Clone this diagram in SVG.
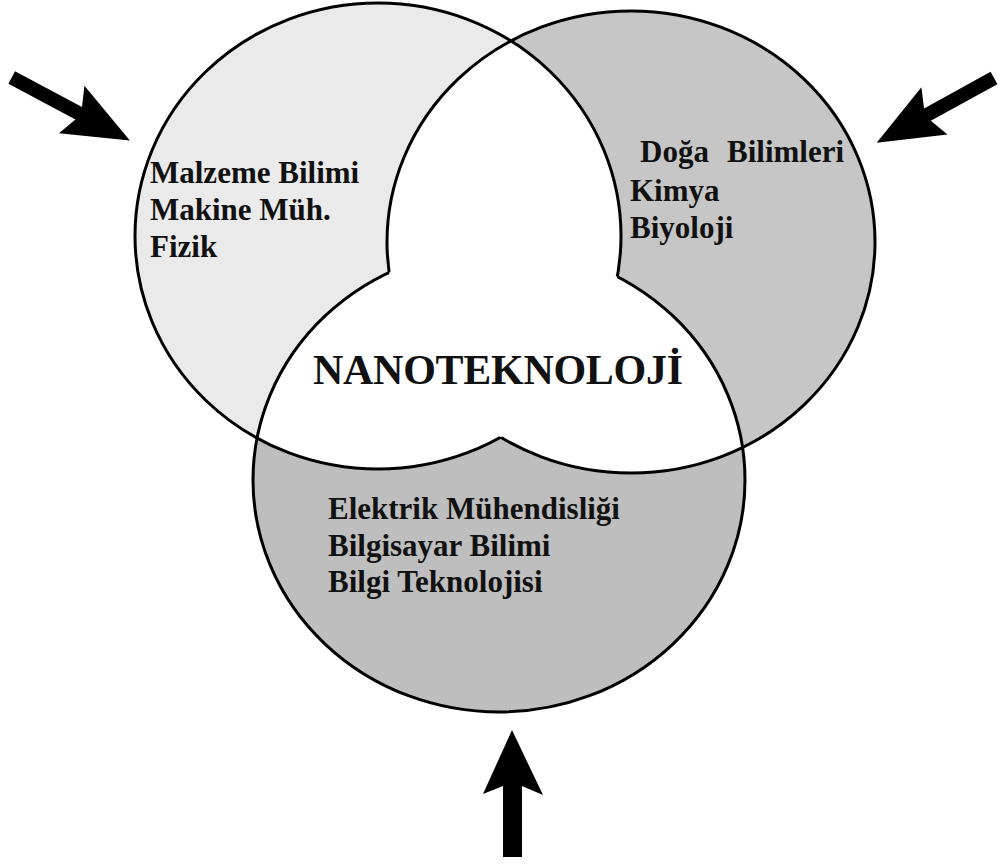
<svg xmlns="http://www.w3.org/2000/svg" width="1002" height="866" viewBox="0 0 1002 866">
<style>
  .lbl{font-family:"Liberation Serif","Times New Roman",serif;font-weight:bold;font-size:31px;fill:#111}
  .title{font-size:42px}
  .ring{fill:none;stroke:#000;stroke-width:3}
  .arrow{fill:#000}
</style>
<defs>
  <ellipse id="eL" cx="378" cy="236" rx="243" ry="233"/>
  <ellipse id="eR" cx="631" cy="242" rx="244" ry="231"/>
  <ellipse id="eB" cx="499" cy="480" rx="246" ry="232"/>
  <clipPath id="cL"><use href="#eL"/></clipPath>
  <clipPath id="cR"><use href="#eR"/></clipPath>
  <clipPath id="cB"><use href="#eB"/></clipPath>
  <mask id="mRB" maskUnits="userSpaceOnUse" x="0" y="0" width="1002" height="866">
    <rect width="1002" height="866" fill="#fff"/>
    <g clip-path="url(#cB)"><use href="#eR" fill="#000"/></g>
  </mask>
  <mask id="mLB" maskUnits="userSpaceOnUse" x="0" y="0" width="1002" height="866">
    <rect width="1002" height="866" fill="#fff"/>
    <g clip-path="url(#cB)"><use href="#eL" fill="#000"/></g>
  </mask>
  <mask id="mLR" maskUnits="userSpaceOnUse" x="0" y="0" width="1002" height="866">
    <rect width="1002" height="866" fill="#fff"/>
    <g clip-path="url(#cR)"><use href="#eL" fill="#000"/></g>
  </mask>
  <polygon id="arr" points="0,-7 76,-7 68,-27 134,0 68,27 76,7 0,7"/>
</defs>
<rect width="1002" height="866" fill="#fff"/>

<g id="circle-bottom"><use href="#eB" fill="#bebebe"/></g>
<g id="circle-left"><use href="#eL" fill="#eaeaea"/></g>
<g id="circle-right"><use href="#eR" fill="#c6c6c6"/></g>

<g id="center-overlap">
  <g clip-path="url(#cR)"><use href="#eL" fill="#fff"/></g>
  <g clip-path="url(#cB)"><use href="#eL" fill="#fff"/></g>
  <g clip-path="url(#cB)"><use href="#eR" fill="#fff"/></g>
</g>

<g id="outlines">
  <use href="#eL" class="ring" mask="url(#mRB)"/>
  <use href="#eR" class="ring" mask="url(#mLB)"/>
  <use href="#eB" class="ring" mask="url(#mLR)"/>
</g>

<g id="label-left">
  <text class="lbl" x="150" y="183">Malzeme Bilimi</text>
  <text class="lbl" x="150" y="220">Makine Müh.</text>
  <text class="lbl" x="150" y="257">Fizik</text>
</g>
<g id="label-right">
  <text class="lbl" y="162"><tspan x="640">Doğa</tspan><tspan x="727">Bilimleri</tspan></text>
  <text class="lbl" x="630" y="201">Kimya</text>
  <text class="lbl" x="630" y="238">Biyoloji</text>
</g>
<g id="label-bottom">
  <text class="lbl" x="328" y="519">Elektrik Mühendisliği</text>
  <text class="lbl" x="328" y="556">Bilgisayar Bilimi</text>
  <text class="lbl" x="328" y="592">Bilgi Teknolojisi</text>
</g>
<g id="label-center">
  <text class="lbl title" x="313" y="384" textLength="370" lengthAdjust="spacing">NANOTEKNOLOJİ</text>
</g>

<g id="arrows" class="arrow">
  <use href="#arr" transform="translate(11.7,77.5) rotate(28.1)"/>
  <use href="#arr" transform="translate(994,78) rotate(151.1)"/>
  <polygon points="512,730 543,795 522,786 522,857 503,857 503,786 483,794"/>
</g>
</svg>
